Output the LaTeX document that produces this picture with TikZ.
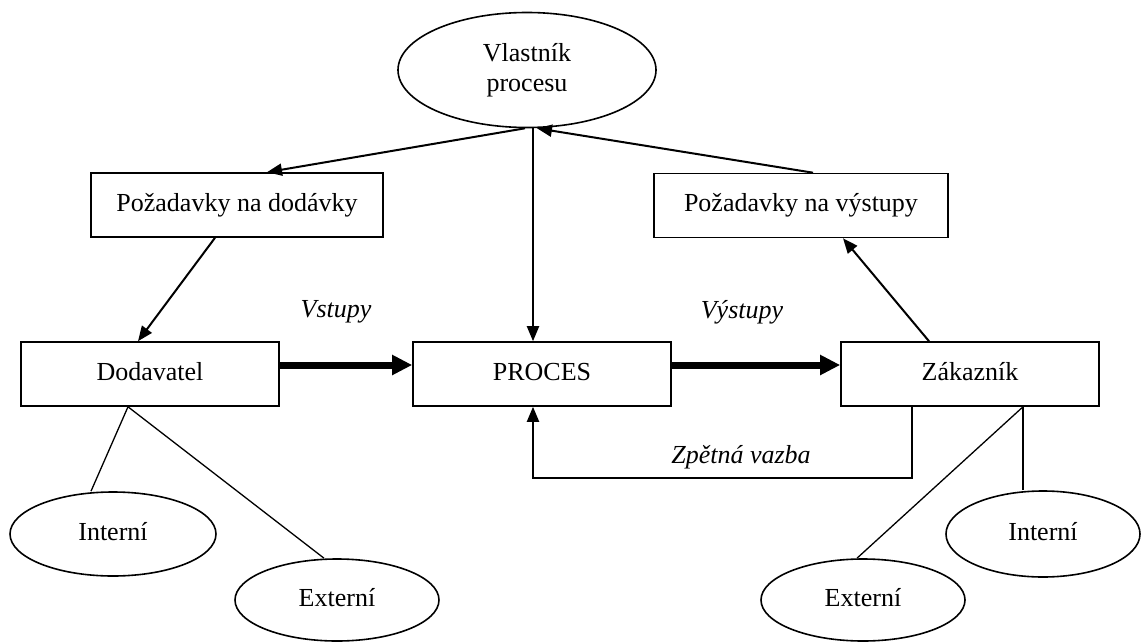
\documentclass[tikz,border=0pt]{standalone}
\usepackage{fontspec}
\setmainfont{Liberation Serif}
\usetikzlibrary{arrows.meta,calc,shapes.geometric}
\begin{document}
\begin{tikzpicture}[x=1pt,y=-1pt,
  every node/.style={font=\fontsize{26pt}{30pt}\selectfont},
  box/.style={draw,line width=1.6pt,rectangle,minimum width=258pt,minimum height=64pt,inner sep=0pt,text height=18pt,text depth=6pt},
  oval/.style={draw,line width=1.6pt,ellipse,inner sep=0pt},
  ovaltext/.style={text height=18pt,text depth=5pt},
  lbl/.style={font=\fontsize{26pt}{30pt}\selectfont\itshape,inner sep=0pt},
  arr/.style={line width=2pt,-{Triangle[length=15pt,width=12pt]}},
  fat/.style={line width=7pt,-{Triangle[length=20pt,width=19pt]}},
  branch/.style={line width=1.3pt}]
\useasboundingbox (0,0) rectangle (1141,642);
% nodes
\node[oval,minimum width=258pt,minimum height=115pt,align=center] (own) at (527,70) {Vlastník\\procesu};
\node[box,minimum width=292pt] (pd) at (237,205) {Požadavky na dodávky};
\node[box,minimum width=294pt] (pv) at (801,205.5) {Požadavky na výstupy};
\node[box] (dod) at (150,374) {Dodavatel};
\node[box] (proc) at (542,374) {PROCES};
\node[box] (zak) at (970,374) {Zákazník};
\node[oval,ovaltext,minimum width=206pt,minimum height=84pt] (il) at (113,534) {Interní};
\node[oval,ovaltext,minimum width=204pt,minimum height=82pt] (el) at (337,600) {Externí};
\node[oval,ovaltext,minimum width=204pt,minimum height=82pt] (er) at (863,600) {Externí};
\node[oval,ovaltext,minimum width=194pt,minimum height=86pt] (ir) at (1043,534) {Interní};
\node[lbl] (vst) at (336,312) {Vstupy};
\node[lbl] (vyst) at (742,312) {Výstupy};
\node[lbl] (zv) at (741,457) {Zpětná vazba};
% connectors
\draw[arr] ([xshift=-2pt]own.south) -- ([xshift=30pt]pd.north);
\draw[arr] ([xshift=6pt]own.south) -- ([xshift=-9pt]proc.north);
\draw[arr] ([xshift=12pt]pv.north) -- ([xshift=10pt]own.south);
\draw[arr] ([xshift=-22pt]pd.south) -- ([xshift=-12pt]dod.north);
\draw[arr] ([xshift=-41pt]zak.north) -- ([xshift=42pt]pv.south);
\draw[fat] ([yshift=9pt]dod.east) -- ([yshift=9pt]proc.west);
\draw[fat] ([yshift=9pt]proc.east) -- ([yshift=9pt]zak.west);
\draw[arr] ([xshift=-58pt]zak.south) -- ++(0,71) -| ([xshift=-9pt]proc.south);
\draw[branch] ([xshift=-22pt]dod.south) -- ([xshift=-22pt]il.north);
\draw[branch] ([xshift=-22pt]dod.south) -- ([xshift=-13pt]el.north);
\draw[branch] ([xshift=53pt]zak.south) -- ([xshift=-20pt]ir.north);
\draw[branch] ([xshift=53pt]zak.south) -- ([xshift=-6pt]er.north);
\end{tikzpicture}
\end{document}
